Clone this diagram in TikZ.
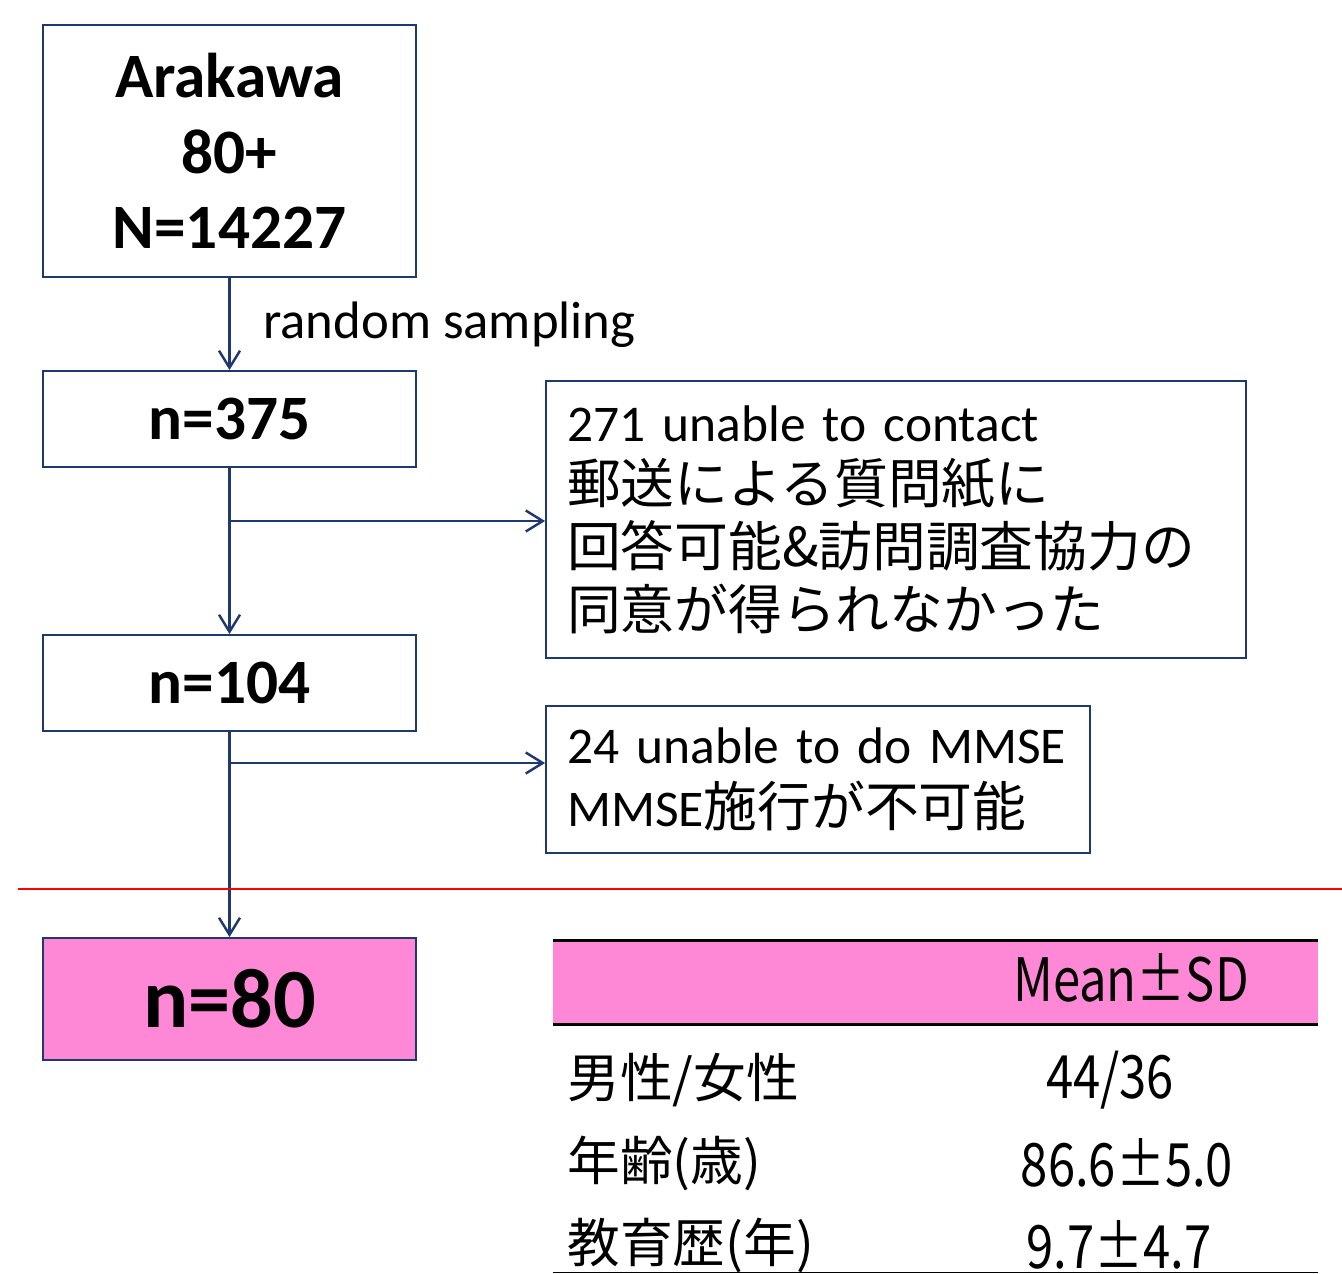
\documentclass[tikz,border=0pt]{standalone}
\usepackage{fontspec}
\setmainfont{Carlito}
\newfontfamily\jp{Noto Sans CJK JP}
\newfontfamily\jpnarrow[FakeStretch=0.82]{Noto Sans CJK JP}
\newcommand{\jpline}[1]{{\jp\fontsize{30.6pt}{35.7pt}\selectfont #1}}
\usetikzlibrary{arrows.meta,positioning}
\definecolor{boxblue}{RGB}{31,56,112}
\definecolor{boxpink}{RGB}{255,136,214}
\tikzset{
  flowbox/.style={draw=boxblue, line width=1.1pt, minimum width=7.46cm, inner sep=0pt,
    align=center, font=\bfseries\fontsize{36pt}{43pt}\selectfont},
  notebox/.style={draw=boxblue, line width=1.1pt, inner xsep=0.42cm, inner ysep=0pt,
    align=left, font=\fontsize{29.3pt}{35.7pt}\selectfont},
  flowarrow/.style={draw=boxblue, line width=1.4pt,
    -{Straight Barb[length=0.34cm, width=0.42cm, line width=1.4pt]}},
  tabtext/.style={inner sep=0pt, font=\jp\fontsize{30pt}{36pt}\selectfont},
  tabnum/.style={inner sep=0pt, font=\jpnarrow\fontsize{34pt}{40pt}\selectfont},
}

\begin{document}
\begin{tikzpicture}[x=0.02cm, y=-0.02cm]
  \useasboundingbox (0,0) rectangle (1342,1274);
  %--------------- flow boxes ---------------
  \node[flowbox, minimum height=5.04cm] (arakawa) at (229.5,151) {Arakawa\\80+\\N=14227};
  \node[flowbox, minimum height=1.92cm] (sampled) at (229.5,419) {n=375};
  \node[flowbox, minimum height=1.92cm] (visited) at (229.5,683) {n=104};
  \node[flowbox, minimum height=2.44cm, fill=boxpink,
    font=\bfseries\fontsize{48pt}{56pt}\selectfont] (final) at (229.5,999) {n=80};
  %--------------- exclusion boxes ---------------
  \node[notebox, text width=13.16cm, minimum height=5.54cm] (excl1) at (896,519.5)
    {\mbox{271 unable to contact}\\\jpline{郵送による質問紙に}\\\jpline{回答可能\&訪問調査協力の}\\\jpline{同意が得られなかった}};
  \node[notebox, text width=10.04cm, minimum height=2.94cm] (excl2) at (818,779.5)
    {\mbox{24 unable to do MMSE}\\\mbox{MMSE\jpline{施行が不可能}}};
  %--------------- arrows ---------------
  \draw[flowarrow] (arakawa) -- (sampled);
  \node[anchor=west, inner sep=0pt, font=\fontsize{30pt}{36pt}\selectfont] (samplelabel) at (263,325) {random sampling};
  \draw[flowarrow] (sampled) -- (visited);
  \coordinate (split1) at (229.5,521);
  \draw[flowarrow] (split1) -- (split1 -| excl1.west);
  \draw[flowarrow] (visited) -- (final);
  \coordinate (split2) at (229.5,763);
  \draw[flowarrow] (split2) -- (split2 -| excl2.west);
  % separator
  \draw[red, line width=1.1pt] (18,889) -- (1342,889);
  %--------------- table ---------------
  \node[fill=boxpink, minimum width=15.3cm, minimum height=1.66cm, inner sep=0pt] (tabhead) at (935.5,982.5) {};
  \draw[line width=1.7pt] (tabhead.north west) -- (tabhead.north east);
  \draw[line width=2pt] (tabhead.south west) -- (tabhead.south east);
  \draw[line width=1.1pt] (553,1272.5) -- (1318,1272.5);
  \node[tabnum] (headlabel) at (1131,978) {Mean±SD};
  \node[tabtext, anchor=west] (sexlabel) at (567,1080) {男性/女性};
  \node[tabnum] (sexvalue) at (1110,1080) {44/36};
  \node[tabtext, anchor=west] (agelabel) at (567,1163) {年齢(歳)};
  \node[tabnum] (agevalue) at (1127,1163) {86.6±5.0};
  \node[tabtext, anchor=west] (edulabel) at (567,1245) {教育歴(年)};
  \node[tabnum] (eduvalue) at (1119,1245) {9.7±4.7};
\end{tikzpicture}
\end{document}
